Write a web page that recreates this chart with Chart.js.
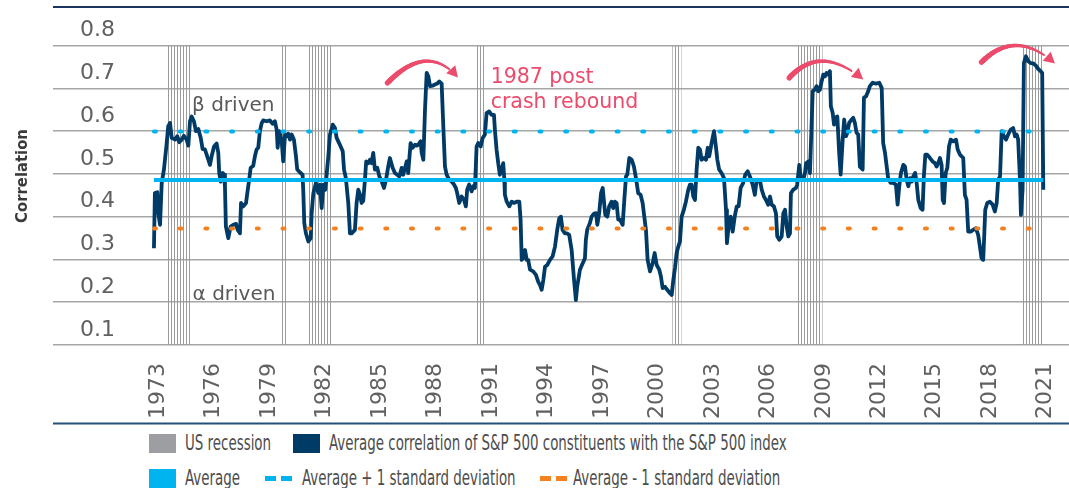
<!DOCTYPE html>
<html>
<head>
<meta charset="utf-8">
<title>S&amp;P 500 average correlation</title>
<script src="https://cdn.jsdelivr.net/npm/chart.js"></script>
<style>
  body { margin: 0; background: #fff; }
  #wrap { position: relative; width: 1069px; height: 426px; }
  #legend { position: absolute; left: 0; top: 426px; width: 1069px; height: 62px;
            font-family: 'Liberation Sans Narrow', 'DejaVu Sans Condensed', sans-serif;
            font-size: 21px; color: #4d4d4d; }
  .mark { position: absolute; width: 27px; height: 19px; }
  .dashes { position: absolute; width: 27px; height: 5px; }
  .dashes span { position: absolute; top: 0; width: 11px; height: 5px; }
  .txt { position: absolute; white-space: nowrap; line-height: 19px;
         transform: scaleX(0.71); transform-origin: 0 50%; }
</style>
</head>
<body>
<div id="wrap"><canvas id="chart"></canvas></div>
<div id="legend"></div>

<script>
// ---- data -------------------------------------------------------------
const tickYears = [1973, 1976, 1979, 1982, 1985, 1988, 1991, 1994, 1997, 2000, 2003, 2006, 2009, 2012, 2015, 2018, 2021];

// US recessions as [start, end] in decimal years
const recessions = [[1973.83, 1975.09], [1980.0, 1980.37], [1981.5, 1982.75], [1990.5, 1991.04],
                    [2001.17, 2001.68], [2007.92, 2009.31], [2020.08, 2021.2]];

// decimal year of each reading
const dates = [
  1973.14,1973.19,1973.32,1973.37,1973.47,1973.56,1973.68,1973.83,1973.91,1974.01,1974.10,1974.28,1974.40,1974.51,1974.64,1974.76,1974.91,
  1975.00,1975.09,1975.18,1975.30,1975.41,1975.54,1975.67,1975.77,1975.90,1975.99,1976.08,1976.17,1976.26,1976.39,1976.53,1976.62,1976.67,
  1976.75,1976.86,1976.93,1976.98,1977.03,1977.16,1977.29,1977.43,1977.58,1977.67,1977.79,1977.85,1977.97,1978.12,1978.19,1978.29,1978.37,
  1978.51,1978.60,1978.69,1978.78,1978.87,1978.97,1979.05,1979.24,1979.41,1979.56,1979.68,1979.78,1979.83,1979.92,1980.05,1980.13,1980.23,
  1980.32,1980.40,1980.50,1980.59,1980.71,1980.82,1980.89,1981.04,1981.18,1981.22,1981.27,1981.36,1981.49,1981.62,1981.67,1981.76,1981.90,
  1982.03,1982.12,1982.21,1982.30,1982.41,1982.48,1982.57,1982.66,1982.81,1982.93,1983.02,1983.11,1983.24,1983.35,1983.42,1983.52,1983.65,
  1983.74,1983.83,1983.92,1984.01,1984.10,1984.19,1984.28,1984.37,1984.46,1984.55,1984.62,1984.73,1984.82,1984.91,1985.00,1985.09,1985.22,
  1985.33,1985.46,1985.58,1985.69,1985.81,1985.90,1986.05,1986.17,1986.30,1986.41,1986.54,1986.62,1986.72,1986.81,1986.89,1987.02,1987.13,
  1987.26,1987.38,1987.49,1987.56,1987.62,1987.71,1987.80,1987.89,1987.98,1988.07,1988.21,1988.34,1988.46,1988.57,1988.70,1988.79,1988.88,
  1988.97,1989.11,1989.24,1989.37,1989.47,1989.54,1989.65,1989.78,1989.91,1990.01,1990.08,1990.19,1990.32,1990.41,1990.50,1990.59,1990.68,
  1990.81,1990.92,1991.04,1991.13,1991.27,1991.40,1991.53,1991.58,1991.67,1991.76,1991.85,1991.95,1992.03,1992.09,1992.12,1992.22,1992.36,
  1992.49,1992.61,1992.76,1992.90,1992.97,1993.03,1993.11,1993.21,1993.30,1993.38,1993.48,1993.65,1993.80,1993.92,1994.02,1994.11,1994.20,
  1994.29,1994.41,1994.56,1994.70,1994.83,1994.95,1995.06,1995.15,1995.24,1995.37,1995.49,1995.60,1995.73,1995.86,1995.96,1996.03,1996.18,
  1996.27,1996.45,1996.50,1996.57,1996.72,1996.81,1996.94,1997.05,1997.12,1997.22,1997.32,1997.41,1997.48,1997.55,1997.66,1997.76,1997.89,
  1997.98,1998.07,1998.16,1998.25,1998.34,1998.49,1998.58,1998.67,1998.74,1998.85,1998.98,1999.10,1999.21,1999.33,1999.46,1999.57,1999.66,
  1999.75,1999.84,1999.97,2000.11,2000.22,2000.33,2000.47,2000.56,2000.65,2000.78,2000.90,2001.05,2001.14,2001.23,2001.32,2001.41,2001.50,
  2001.59,2001.68,2001.80,2001.91,2002.04,2002.13,2002.22,2002.31,2002.40,2002.49,2002.58,2002.67,2002.76,2002.89,2003.00,2003.09,2003.17,
  2003.30,2003.43,2003.54,2003.61,2003.71,2003.84,2003.97,2004.08,2004.13,2004.22,2004.33,2004.44,2004.55,2004.66,2004.76,2004.87,2005.01,
  2005.12,2005.25,2005.37,2005.52,2005.64,2005.73,2005.82,2005.91,2006.01,2006.13,2006.24,2006.36,2006.46,2006.55,2006.67,2006.78,2006.85,
  2006.96,2007.09,2007.18,2007.27,2007.36,2007.45,2007.54,2007.59,2007.72,2007.86,2007.93,2008.04,2008.13,2008.26,2008.35,2008.41,2008.53,
  2008.62,2008.71,2008.77,2008.89,2008.98,2009.07,2009.16,2009.25,2009.34,2009.43,2009.52,2009.61,2009.70,2009.75,2009.85,2009.92,2009.97,
  2010.10,2010.20,2010.28,2010.39,2010.47,2010.57,2010.64,2010.74,2010.87,2010.96,2011.05,2011.14,2011.23,2011.32,2011.47,2011.54,2011.65,
  2011.77,2011.86,2012.01,2012.19,2012.37,2012.50,2012.58,2012.68,2012.77,2012.85,2012.98,2013.12,2013.27,2013.36,2013.45,2013.54,2013.67,
  2013.76,2013.85,2013.94,2014.03,2014.12,2014.21,2014.31,2014.39,2014.48,2014.61,2014.71,2014.78,2014.86,2014.96,2015.11,2015.25,2015.38,
  2015.47,2015.56,2015.65,2015.74,2015.80,2015.87,2015.96,2016.05,2016.14,2016.23,2016.37,2016.52,2016.61,2016.73,2016.91,2017.00,2017.09,
  2017.18,2017.31,2017.45,2017.60,2017.72,2017.81,2017.90,2017.99,2018.05,2018.10,2018.21,2018.35,2018.50,2018.62,2018.72,2018.80,2018.90,
  2018.99,2019.11,2019.22,2019.34,2019.47,2019.61,2019.71,2019.80,2019.88,2019.98,2020.03,2020.12,2020.19,2020.30,2020.43,2020.55,2020.70,
  2020.84,2020.97,2021.10,2021.18,2021.24
];

// average correlation of S&P 500 constituents with the index
const avgCorr = [
  .326,.455,.457,.409,.381,.479,.510,.572,.611,.619,.584,.580,.588,.574,.580,.589,.580,
  .566,.623,.634,.623,.600,.605,.584,.558,.557,.545,.533,.521,.541,.564,.571,.549,.502,
  .482,.502,.498,.471,.377,.350,.377,.381,.383,.369,.361,.432,.424,.432,.455,.486,.514,
  .519,.541,.557,.561,.600,.619,.625,.623,.625,.617,.623,.603,.561,.600,.576,.529,.592,
  .588,.594,.580,.592,.580,.541,.510,.503,.498,.455,.385,.361,.342,.350,.408,.455,.479,
  .455,.475,.420,.475,.463,.498,.541,.592,.615,.607,.584,.576,.564,.553,.510,.490,.432,
  .361,.361,.365,.369,.432,.463,.452,.432,.437,.486,.529,.525,.533,.525,.549,.510,.514,
  .494,.482,.467,.486,.517,.537,.514,.502,.498,.494,.514,.498,.514,.529,.502,.572,.561,
  .568,.566,.572,.576,.549,.533,.650,.736,.728,.705,.706,.709,.711,.716,.711,.611,.517,
  .498,.486,.482,.475,.467,.455,.432,.447,.439,.424,.463,.475,.459,.471,.467,.564,.572,
  .564,.584,.592,.642,.646,.638,.638,.603,.557,.525,.498,.510,.525,.486,.451,.435,.424,
  .435,.432,.435,.435,.393,.299,.303,.322,.299,.299,.276,.272,.264,.248,.240,.229,.252,
  .283,.287,.299,.307,.330,.369,.396,.400,.369,.361,.361,.357,.322,.252,.205,.236,.276,
  .285,.303,.346,.369,.385,.400,.407,.408,.381,.408,.455,.467,.435,.404,.400,.424,.435,
  .420,.435,.432,.393,.393,.381,.439,.494,.498,.537,.533,.517,.490,.455,.451,.432,.400,
  .369,.299,.272,.291,.315,.287,.276,.260,.233,.236,.229,.221,.217,.252,.280,.315,.330,
  .342,.400,.416,.435,.463,.475,.475,.447,.439,.510,.561,.557,.533,.537,.533,.561,.541,
  .572,.600,.561,.533,.510,.502,.490,.416,.338,.377,.400,.365,.400,.424,.424,.467,.479,
  .498,.506,.494,.475,.451,.482,.486,.486,.463,.447,.439,.428,.447,.428,.424,.408,.354,
  .346,.354,.408,.416,.377,.354,.361,.455,.463,.467,.475,.521,.486,.487,.502,.525,.529,
  .502,.619,.693,.697,.705,.693,.697,.716,.732,.728,.736,.732,.740,.658,.642,.615,.631,
  .634,.549,.498,.580,.627,.588,.596,.619,.627,.631,.619,.596,.592,.517,.510,.678,.681,
  .693,.705,.713,.711,.713,.701,.572,.549,.517,.490,.479,.479,.475,.428,.471,.502,.521,
  .517,.486,.471,.490,.482,.494,.502,.479,.439,.420,.416,.494,.545,.545,.537,.529,.525,
  .517,.525,.537,.521,.439,.432,.502,.514,.564,.580,.576,.580,.557,.545,.537,.451,.439,
  .365,.365,.369,.373,.357,.330,.303,.299,.361,.416,.432,.435,.428,.412,.432,.486,.494,
  .600,.588,.580,.592,.603,.607,.588,.592,.580,.486,.404,.463,.759,.775,.763,.759,.758,
  .753,.745,.740,.736,.463
];

const meanCorr = 0.4855;
const sdCorr = 0.1133;
const bandTop = 0.8;

const seriesNames = [
  'US recession',
  'Average correlation of S&P 500 constituents with the S&P 500 index',
  'Average',
  'Average + 1 standard deviation',
  'Average - 1 standard deviation'
];

// ---- styling ------------------------------------------------------------
const NAVY = '#003a66', CYAN = '#00b5ef', ORANGE = '#f4811f', RED = '#ec4b6c', GREY = '#9b9b9b';
const tickFont = {family: 'DejaVu Sans', size: 22};
const labelShift = 0.37;   // Excel puts the year label a bit into the year

// annotation positions are in data units (year, correlation)
const notes = [
  {text: 'β driven', x: 1975.2, y: 0.646, color: '#595959'},
  {text: 'α driven', x: 1975.23, y: 0.2055, color: '#595959'},
  {text: '1987 post', x: 1991.35, y: 0.7127, color: RED},
  {text: 'crash rebound', x: 1991.35, y: 0.654, color: RED}
];
const arrows = [
  {from: [1985.77, 0.7127], top: [1987.8, 0.7633], to: [1989.58, 0.725]},
  {from: [2007.5, 0.7244], top: [2009.34, 0.7633], to: [2011.5, 0.7205]},
  {from: [2017.9, 0.761], top: [2019.8, 0.80], to: [2021.87, 0.758]}
];

const ctx = document.getElementById('chart').getContext('2d');

function stripePattern() {
  const c = document.createElement('canvas');
  c.width = 3; c.height = 4;
  const g = c.getContext('2d');
  g.fillStyle = GREY;
  g.fillRect(0, 0, 1, 4);
  return ctx.createPattern(c, 'repeat');
}

const recessionPoints = [];
recessions.forEach(([s, e]) => {
  recessionPoints.push({x: s, y: bandTop}, {x: e, y: bandTop}, {x: e, y: null});
});

const corrPoints = dates.map((d, i) => ({x: d, y: avgCorr[i]}));
const first = dates[0], last = dates[dates.length - 1];
const flat = v => [{x: first, y: v}, {x: last, y: v}];

function drawArrow(c, x0, y0, xt, yt, x1, y1) {
  const cx = 2 * xt - (x0 + x1) / 2, cy = 2 * yt - (y0 + y1) / 2;
  const pt = t => [(1 - t) * (1 - t) * x0 + 2 * (1 - t) * t * cx + t * t * x1,
                   (1 - t) * (1 - t) * y0 + 2 * (1 - t) * t * cy + t * t * y1];
  c.strokeStyle = RED; c.fillStyle = RED; c.lineCap = 'round';
  const n = 30, stop = 0.86;
  let p = pt(0);
  for (let i = 1; i <= n; i++) {
    const t = stop * i / n;
    const q = pt(t);
    c.lineWidth = 5.5 - 3.5 * (i / n);
    c.beginPath(); c.moveTo(p[0], p[1]); c.lineTo(q[0], q[1]); c.stroke();
    p = q;
  }
  // arrow head along the end tangent
  let dx = x1 - cx, dy = y1 - cy;
  const len = Math.hypot(dx, dy); dx /= len; dy /= len;
  const bx = x1 - dx * 11, by = y1 - dy * 11;
  c.beginPath();
  c.moveTo(x1, y1);
  c.lineTo(bx - dy * 6, by + dx * 6);
  c.lineTo(bx + dy * 6, by - dx * 6);
  c.closePath(); c.fill();
}

const decorations = {
  id: 'decorations',
  afterDatasetsDraw(chart) {
    const {ctx: c, scales: {x, y}} = chart;
    c.save();
    notes.forEach(n => {
      c.font = (n.color === RED ? '20.5px' : '20px') + ' "DejaVu Sans"';
      c.fillStyle = n.color;
      c.textBaseline = 'alphabetic';
      c.fillText(n.text, x.getPixelForValue(n.x), y.getPixelForValue(n.y));
    });
    arrows.forEach(a => drawArrow(c,
      x.getPixelForValue(a.from[0]), y.getPixelForValue(a.from[1]),
      x.getPixelForValue(a.top[0]), y.getPixelForValue(a.top[1]),
      x.getPixelForValue(a.to[0]), y.getPixelForValue(a.to[1])));
    c.restore();
  },
  afterDraw(chart) {
    const {ctx: c, chartArea: area, scales: {x}} = chart;
    c.save();
    c.strokeStyle = '#1b365d'; c.lineWidth = 1.8;
    c.beginPath(); c.moveTo(area.left, area.top); c.lineTo(area.right, area.top); c.stroke();
    c.strokeStyle = '#24507b'; c.lineWidth = 2;
    c.beginPath(); c.moveTo(area.left, x.bottom - 2.5); c.lineTo(area.right, x.bottom - 2.5); c.stroke();
    c.restore();
  }
};

new Chart(ctx, {
  type: 'line',
  data: {
    datasets: [
      {label: seriesNames[2], data: flat(meanCorr), borderColor: CYAN, borderWidth: 4, order: 0},
      {label: seriesNames[3], data: flat(meanCorr + sdCorr), borderColor: CYAN, borderWidth: 4,
       borderDash: [2, 23.7], borderCapStyle: 'round', order: 0},
      {label: seriesNames[4], data: flat(meanCorr - sdCorr), borderColor: ORANGE, borderWidth: 4,
       borderDash: [2, 23.7], borderCapStyle: 'round', order: 0},
      {label: seriesNames[1], data: corrPoints, borderColor: NAVY, borderWidth: 3.8,
       borderJoinStyle: 'round', order: 1},
      {label: seriesNames[0], data: recessionPoints, borderWidth: 0, borderColor: 'rgba(0,0,0,0)',
       backgroundColor: stripePattern(), fill: 'start', spanGaps: false, order: 2}
    ]
  },
  options: {
    responsive: true,
    maintainAspectRatio: false,
    animation: false,
    events: [],
    layout: {padding: {top: 7, left: 0, right: 0, bottom: 0}},
    elements: {point: {radius: 0}, line: {tension: 0}},
    plugins: {legend: {display: false}, tooltip: {enabled: false}},
    scales: {
      x: {
        type: 'linear',
        min: 1967.68,
        max: 2022.63,
        grid: {display: false},
        border: {display: false},
        afterBuildTicks: s => { s.ticks = tickYears.map(v => ({value: v + labelShift})); },
        afterFit: s => { s.height = 81; s.paddingLeft = 0; s.paddingRight = 0; },
        ticks: {
          autoSkip: false, minRotation: 90, maxRotation: 90, padding: 10,
          font: tickFont, color: '#606060',
          callback: v => String(Math.round(v - labelShift))
        }
      },
      y: {
        min: 0.1,
        max: 0.89,
        grid: {color: '#a6a6a6', lineWidth: 1.5, drawTicks: false},
        border: {display: false},
        afterFit: s => { s.width = 53; s.paddingTop = 0; s.paddingBottom = 0; },
        ticks: {
          stepSize: 0.1, includeBounds: false, mirror: true, padding: 27, labelOffset: -15,
          font: tickFont, color: '#606060'
        },
        title: {
          display: true, text: 'Correlation', color: '#3a3a3a',
          font: {family: "'Liberation Sans Narrow', 'DejaVu Sans Condensed', sans-serif", size: 16.5, weight: 'bold'},
          padding: {top: 13, bottom: 0}
        }
      }
    }
  },
  plugins: [decorations]
});

// ---- legend (html, two rows like the source) ---------------------------
const legend = document.getElementById('legend');
function add(html) { legend.insertAdjacentHTML('beforeend', html); }
function box(left, top, color) { add(`<div class="mark" style="left:${left}px;top:${top}px;background:${color}"></div>`); }
function dashes(left, top, color) {
  add(`<div class="dashes" style="left:${left}px;top:${top}px"><span style="left:0;background:${color}"></span><span style="left:16px;background:${color}"></span></div>`);
}
function text(left, top, t) {
  const el = document.createElement('div');
  el.className = 'txt'; el.style.left = left + 'px'; el.style.top = top + 'px';
  el.textContent = t;
  legend.appendChild(el);
}
box(149, 8, '#9d9ea2');  text(185, 8, seriesNames[0]);
box(293, 8, NAVY);       text(329, 8, seriesNames[1]);
box(149, 43, CYAN);      text(185, 43, seriesNames[2]);
dashes(265, 50, CYAN);   text(302, 43, seriesNames[3]);
dashes(540, 50, ORANGE); text(573, 43, seriesNames[4]);
</script>
</body>
</html>
